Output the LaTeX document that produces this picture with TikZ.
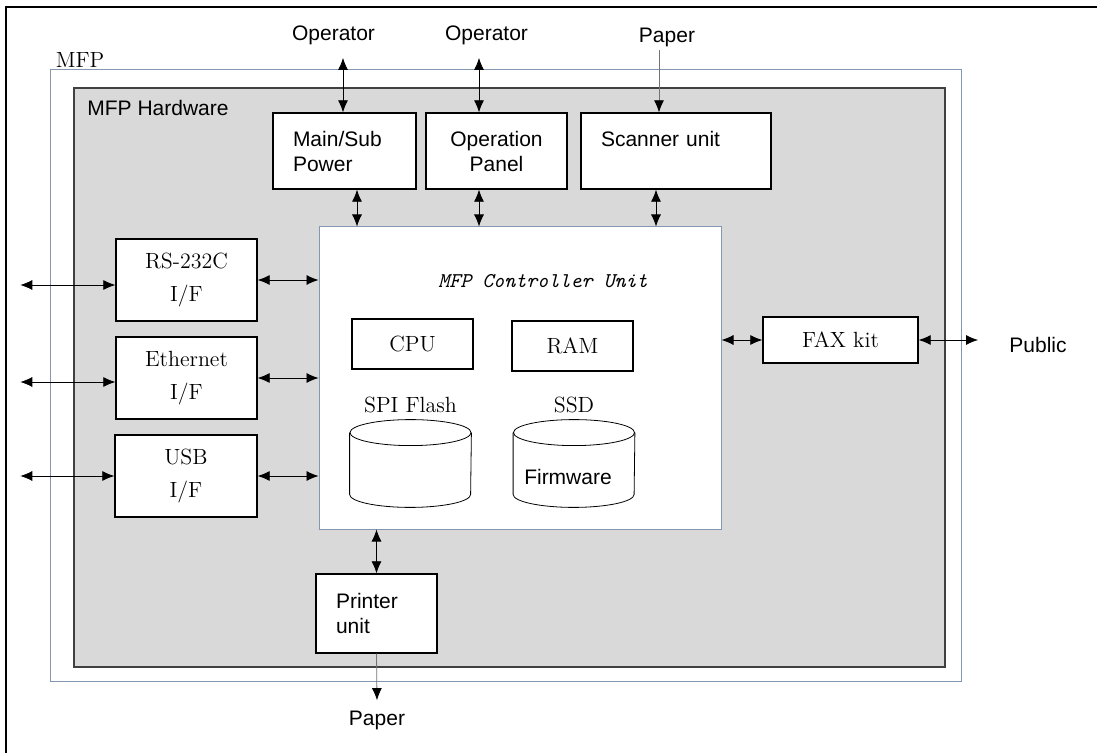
\documentclass[tikz,border=0pt]{standalone}
\usepackage{fontspec}
\newfontfamily\sansf{Liberation Sans}
\usetikzlibrary{arrows.meta, shapes.geometric, positioning}
\definecolor{frameblue}{RGB}{132,151,176}
\definecolor{hwgray}{RGB}{217,217,217}
\definecolor{hwline}{RGB}{64,64,64}

\begin{document}
\begin{tikzpicture}[
    x=0.5pt, y=-0.5pt,
    box/.style={rectangle, draw, line width=0.7pt, fill=white, inner sep=0pt, align=center},
    sbox/.style={box, font=\sansf\fontsize{10.5}{12.5}\selectfont},
    rbox/.style={box, font=\fontsize{11}{16.5}\selectfont},
    txt/.style={inner sep=0pt, font=\sansf\fontsize{10.5}{12.5}\selectfont},
    rtxt/.style={inner sep=0pt, font=\fontsize{11}{13}\selectfont},
    disk/.style={rectangle, minimum width=60.5pt, minimum height=43.5pt, inner sep=0pt},
    arrow/.style={{Latex[length=6pt,width=5pt]}-{Latex[length=6pt,width=5pt]}, line width=0.4pt},
    feed/.style={-{Latex[length=6pt,width=5pt,black]}, line width=0.4pt, draw=black!55}
]
\useasboundingbox (0,0) rectangle (1097,753);
% outer frame
\draw[line width=1.2pt] (6,753) -- (6,7) -- (1097,7);

% MFP and hardware frames
\node[draw=frameblue, line width=0.5pt, minimum width=455.5pt, minimum height=305.5pt, inner sep=0pt] (mfp) at (505.5,375.5) {};
\node[rtxt] (mfplbl) at (80,60) {MFP};
\node[draw=hwline, fill=hwgray, line width=0.7pt, minimum width=435.5pt, minimum height=289.5pt, inner sep=0pt] (hw) at (509.5,377.5) {};
\node[txt, anchor=west] (hwlbl) at (87,108) {MFP Hardware};

% top units
\node[sbox, align=left, text width=51.5pt, inner xsep=10pt, minimum height=38pt] (power) at (344.5,151) {Main/Sub\\Power};
\node[sbox, minimum width=70.5pt, minimum height=38pt] (panel) at (496.5,151) {Operation\\Panel};
\node[sbox, align=left, text width=75pt, inner xsep=10pt, minimum height=38pt] (scanner) at (676,151) {Scanner unit\\~};

% controller
\node[box, draw=frameblue, line width=0.5pt, minimum width=201pt, minimum height=151pt] (ctrl) at (520,378) {};
\node[inner sep=0pt, font=\ttfamily\itshape\fontsize{10.5}{12}\selectfont] (ctitle) at (543,281) {MFP Controller Unit};
\node[rbox, minimum width=60.5pt, minimum height=25pt] (cpu) at (412.5,344) {CPU};
\node[rbox, minimum width=60.5pt, minimum height=25pt] (ram) at (572.5,346) {RAM};
\node[disk, label={[rtxt, label distance=3pt]above:SPI Flash}] (spi) at (410.5,463.5) {};
\node[disk, label={[rtxt, label distance=3pt]above:SSD}] (ssd) at (574,463.5) {};
\foreach \d in {spi, ssd} {
  \draw[line width=0.4pt] ([yshift=-6.5pt]\d.north) ellipse [x radius=30.25pt, y radius=6.5pt];
  \draw[line width=0.4pt] ([yshift=-6.5pt]\d.north west) -- ([yshift=6.5pt]\d.south west)
    arc[start angle=180, end angle=360, x radius=30.25pt, y radius=6.5pt] -- ([yshift=-6.5pt]\d.north east);
}
\node[txt] (fw) at (568,477) {Firmware};

% interfaces
\node[rbox, minimum width=70.5pt, minimum height=41pt] (rs) at (186.5,280) {RS-232C\\I/F};
\node[rbox, minimum width=70.5pt, minimum height=41pt] (eth) at (186.5,378) {Ethernet\\I/F};
\node[rbox, minimum width=71pt, minimum height=41pt] (usb) at (186,476) {USB\\I/F};
\node[rbox, minimum width=77.5pt, minimum height=23pt] (fax) at (840.5,340) {FAX kit};
\node[sbox, align=left, text width=40.5pt, inner xsep=10pt, minimum height=39.5pt] (printer) at (376.5,613.5) {Printer\\unit};

% outside
\node[txt] (op1) at (333.5,35) {Operator};
\node[txt] (op2) at (486.5,35) {Operator};
\node[txt] (paperin) at (667,37) {Paper};
\node[txt] (paperout) at (377,720) {Paper};
\node[txt] (pub) at (1038,345) {Public};

% connections
\draw[arrow] ([xshift=4.75pt, yshift=-6.5pt]op1.south) -- ([xshift=-0.75pt]power.north);
\draw[arrow] ([xshift=-3.75pt, yshift=-6.5pt]op2.south) -- ([xshift=-8.75pt]panel.north);
\draw[feed] ([xshift=-4pt, yshift=-1.6pt]paperin.south) -- ([xshift=-8.5pt]scanner.north);
\draw[arrow] ([xshift=6.25pt]power.south) -- ([xshift=6.25pt]power.south |- ctrl.north);
\draw[arrow] ([xshift=-8.75pt]panel.south) -- ([xshift=-8.75pt]panel.south |- ctrl.north);
\draw[arrow] ([xshift=-10pt]scanner.south) -- ([xshift=-10pt]scanner.south |- ctrl.north);

\draw[arrow] ([yshift=-2.5pt]rs.west) -- ++(-47.5pt,0);
\draw[arrow] ([yshift=-2pt]eth.west) -- ++(-47.5pt,0);
\draw[arrow] (usb.west) -- ++(-47pt,0);
\draw[arrow] (rs.east) -- (rs.east -| ctrl.west);
\draw[arrow] (eth.east) -- (eth.east -| ctrl.west);
\draw[arrow] (usb.east) -- (usb.east -| ctrl.west);

\draw[arrow] (fax.west -| ctrl.east) -- (fax.west);
\draw[arrow] (fax.east) -- ([xshift=-15.5pt]pub.west |- fax.east);
\draw[arrow] (printer.north) -- (printer.north |- ctrl.south);
\draw[feed] (printer.south) -- ([yshift=5pt]paperout.north);
\end{tikzpicture}
\end{document}
